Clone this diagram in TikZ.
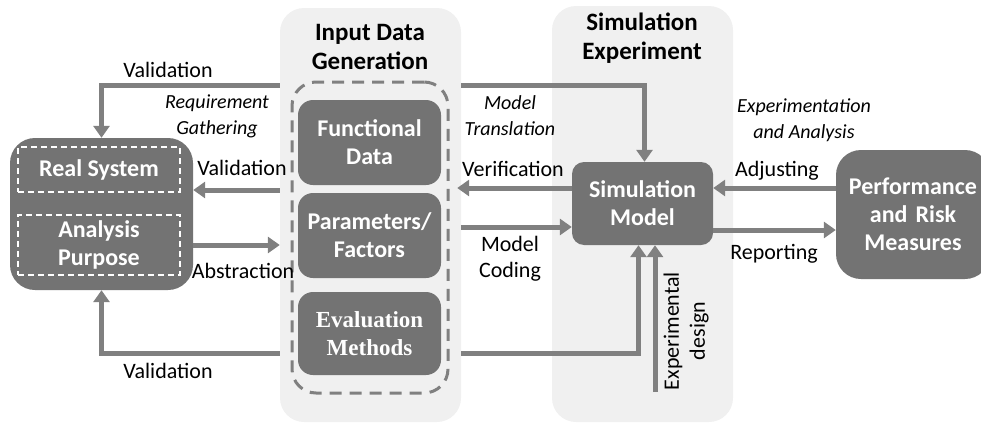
\documentclass[tikz,border=0pt]{standalone}
\usepackage{fontspec}
\setsansfont{Carlito}
\newfontfamily\evalfont{Liberation Serif}
\usepackage{tikz}
\usetikzlibrary{arrows.meta}
\definecolor{panel}{HTML}{F0F0F0}
\definecolor{boxgray}{HTML}{737373}
\definecolor{flowgray}{HTML}{808080}

\begin{document}
\begin{tikzpicture}[x=1pt,y=-1pt,
  panelbox/.style={fill=panel,rounded corners=24pt,inner sep=0pt},
  darkbox/.style={fill=boxgray,text=white,align=center,inner sep=0pt,font=\sffamily\bfseries\fontsize{24}{28}\selectfont},
  whitedash/.style={draw=white,line width=1.2pt,dash pattern=on 6pt off 4pt,text=white,align=center,inner sep=0pt,font=\sffamily\bfseries\fontsize{24}{28}\selectfont},
  flow/.style={draw=flowgray,line width=5pt,-{Triangle[length=12pt,width=16pt]}},
  lbl/.style={font=\sffamily\fontsize{22}{26}\selectfont,align=center,inner sep=0pt},
  ital/.style={font=\sffamily\itshape\fontsize{20}{26}\selectfont,align=center,inner sep=0pt},
  title/.style={font=\sffamily\bfseries\fontsize{25}{29}\selectfont,align=center,inner sep=0pt}]
\clip (0,0) rectangle (981,423);
% background panels
\node[panelbox,minimum width=181pt,minimum height=414pt] (inpanel) at (370.5,215) {};
\node[panelbox,minimum width=181pt,minimum height=416pt] (simpanel) at (642.5,214) {};
\node[title] at (370,47) {Input Data\\Generation};
\node[title] at (642,38) {Simulation\\Experiment};
% input data group
\node[draw=flowgray,line width=3pt,dash pattern=on 12pt off 8pt,rounded corners=24pt,minimum width=156pt,minimum height=311pt] (group) at (370,237.5) {};
\node[darkbox,rounded corners=15pt,minimum width=143pt,minimum height=85pt] (func) at (369.5,142.5) {Functional\\Data};
\node[darkbox,rounded corners=15pt,minimum width=143pt,minimum height=85pt] (param) at (369.5,235.5) {Parameters/\\Factors};
\node[darkbox,rounded corners=15pt,minimum width=143pt,minimum height=83pt,font=\evalfont\bfseries\fontsize{23}{28}\selectfont] (eval) at (369.5,333.5) {Evaluation\\Methods};
% real system
\node[darkbox,rounded corners=25pt,minimum width=183pt,minimum height=152pt] (sys) at (101.5,214) {};
\node[whitedash,minimum width=162pt,minimum height=45pt] (real) at (99,169.5) {Real System};
\node[whitedash,minimum width=162pt,minimum height=60pt] (purpose) at (99,245) {Analysis\\Purpose};
% simulation model and measures
\node[darkbox,rounded corners=12pt,minimum width=141pt,minimum height=83pt] (model) at (642.5,203.5) {Simulation\\Model};
\node[darkbox,rounded corners=25pt,minimum width=154pt,minimum height=129pt,text width=154pt] (perf) at (913,214.5) {Performance\\and Risk\\Measures};
\coordinate (expd) at (655,392);
% connectors
\draw[flow] (inpanel.west |- 0,85) -| (sys.north);
\draw[flow] (inpanel.west |- 0,190) -- (sys.east |- 0,190);
\draw[flow] (sys.east |- 0,245) -- (inpanel.west |- 0,245);
\draw[flow] (inpanel.west |- 0,353) -| (sys.south);
\draw[flow] (inpanel.east |- 0,85) -| ([xshift=2pt]model.north);
\draw[flow] (model.west |- 0,188) -- ([xshift=-4pt]inpanel.east |- 0,188);
\draw[flow] (inpanel.east |- 0,227) -- (model.west |- 0,227);
\draw[flow] (inpanel.east |- 0,353) -| ([xshift=-4pt]model.south);
\draw[flow] (expd) -- (expd |- model.south);
\draw[flow] (perf.west |- 0,188) -- (model.east |- 0,188);
\draw[flow] (model.east |- 0,230) -- (perf.west |- 0,230);
% labels
\node[lbl] at (168,70) {Validation};
\node[ital] at (217,116) {Requirement\\Gathering};
\node[lbl] at (242,168) {Validation};
\node[lbl] at (243,271) {Abstraction};
\node[lbl] at (168,371) {Validation};
\node[ital] at (510,116) {Model\\Translation};
\node[lbl] at (513,169) {Verification};
\node[lbl] at (510,259) {Model\\Coding};
\node[ital] at (804,120) {Experimentation\\and Analysis};
\node[lbl] at (777,171) {Adjusting};
\node[lbl] at (774,254) {Reporting};
\node[lbl,rotate=90] at (686,331) {Experimental\\design};
\end{tikzpicture}
\end{document}
